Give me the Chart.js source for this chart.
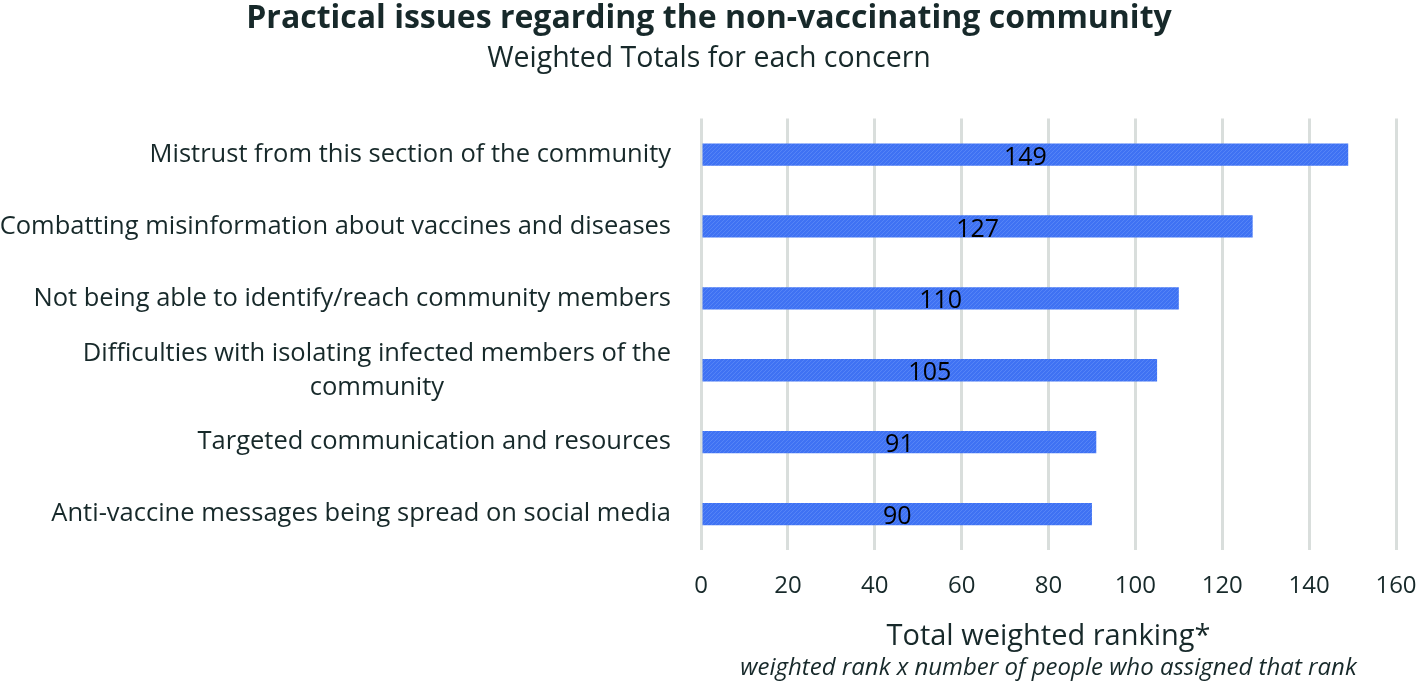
<!DOCTYPE html>
<html>
<head>
<meta charset="utf-8">
<script src="https://cdn.jsdelivr.net/npm/chart.js@4.4.0/dist/chart.umd.min.js"></script>
<style>
  html, body { margin: 0; padding: 0; background: #fff; }
  #wrap { width: 1418px; height: 684px; }
</style>
</head>
<body>
<div id="wrap"><canvas id="chart_issues"></canvas></div>
<script>
// categories and values
const concerns = [
    "Mistrust from this section of the community",
    "Combatting misinformation about vaccines and diseases",
    "Not being able to identify/reach community members",
    ["Difficulties with isolating infected members of the", "community"],
    "Targeted communication and resources",
    "Anti-vaccine messages being spread on social media"
];
const weightedTotals = [149, 127, 110, 105, 91, 90];
const xTicks = [0, 20, 40, 60, 80, 100, 120, 140, 160];

const txt = "#17292a";
const fontName = "'Open Sans', sans-serif";

// fine hatch like the original fill
function hatch(){
    const c = document.createElement('canvas');
    c.width = 4; c.height = 4;
    const g = c.getContext('2d');
    g.fillStyle = "#3f72f3";
    g.fillRect(0, 0, 4, 4);
    g.strokeStyle = "#5584f6";
    g.lineWidth = 1;
    g.beginPath();
    g.moveTo(0, 4); g.lineTo(4, 0);
    g.stroke();
    return g.createPattern(c, 'repeat');
}

// y labels: right edge fixed, wrapped lines centred on each other
const yLabels = {
    id: 'yLabels',
    afterDraw(chart){
        const ctx = chart.ctx;
        const y = chart.scales.y;
        const right = 671;
        const lh = 34;
        ctx.save();
        ctx.font = "25.5px " + fontName;
        ctx.fillStyle = txt;
        ctx.textBaseline = 'middle';
        ctx.textAlign = 'center';
        concerns.forEach((lab, i) => {
            const lines = Array.isArray(lab) ? lab : [lab];
            const w = Math.max(...lines.map(l => ctx.measureText(l).width));
            const cx = right - w / 2;
            const yc = y.getPixelForTick(i);
            const top = yc - (lines.length - 1) * lh / 2;
            lines.forEach((l, k) => ctx.fillText(l, cx, top + k * lh));
        });
        ctx.restore();
    }
};

// numbers in the middle of each bar
const barValues = {
    id: 'barValues',
    afterDatasetsDraw(chart){
        const ctx = chart.ctx;
        const meta = chart.getDatasetMeta(0);
        ctx.save();
        ctx.font = "25px " + fontName;
        ctx.fillStyle = "#000";
        ctx.textAlign = 'center';
        ctx.textBaseline = 'middle';
        meta.data.forEach((bar, i) => {
            ctx.fillText(weightedTotals[i], (bar.x + bar.base) / 2, bar.y + 3);
        });
        ctx.restore();
    }
};

// italic note under the axis title
const axisNote = {
    id: 'axisNote',
    afterDraw(chart){
        const ctx = chart.ctx;
        const a = chart.chartArea;
        ctx.save();
        ctx.font = "italic 24px " + fontName;
        ctx.fillStyle = txt;
        ctx.textAlign = 'center';
        ctx.textBaseline = 'middle';
        ctx.fillText("weighted rank x number of people who assigned that rank", (a.left + a.right) / 2, 668);
        ctx.restore();
    }
};

new Chart(document.getElementById('chart_issues'), {
    type: 'bar',
    data: {
        labels: concerns,
        datasets: [{
            data: weightedTotals,
            backgroundColor: hatch(),
            borderWidth: 0,
            categoryPercentage: 1,
            barPercentage: 0.31
        }]
    },
    plugins: [yLabels, barValues, axisNote],
    options: {
        indexAxis: 'y',
        responsive: true,
        maintainAspectRatio: false,
        animation: false,
        layout: { padding: { top: 0, bottom: 30, left: 0, right: 0 } },
        plugins: {
            legend: { display: false },
            tooltip: { enabled: false },
            title: {
                display: true,
                text: "Practical issues regarding the non-vaccinating community",
                color: txt,
                font: { family: fontName, size: 32, weight: 'bold' },
                padding: { top: 0, bottom: 3 }
            },
            subtitle: {
                display: true,
                text: "Weighted Totals for each concern",
                color: txt,
                font: { family: fontName, size: 28.5 },
                padding: { top: 0, bottom: 43 }
            }
        },
        scales: {
            x: {
                min: 0,
                max: 160,
                afterBuildTicks: (scale) => { scale.ticks = xTicks.map(v => ({ value: v })); },
                afterFit: (scale) => { scale.height = 104; scale.paddingRight = 22; },
                grid: { color: "#d9dedc", lineWidth: 3, drawTicks: false },
                border: { display: false },
                ticks: {
                    color: txt,
                    font: { family: fontName, size: 24 },
                    padding: 22,
                    maxRotation: 0
                },
                title: {
                    display: true,
                    text: "Total weighted ranking*",
                    color: txt,
                    font: { family: fontName, size: 29 },
                    padding: { top: 21, bottom: 0 }
                }
            },
            y: {
                grid: { display: false },
                border: { display: false },
                ticks: { color: 'rgba(0,0,0,0)', font: { size: 1 } },
                afterFit: (scale) => { scale.width = 701; }
            }
        }
    }
});
</script>
</body>
</html>
